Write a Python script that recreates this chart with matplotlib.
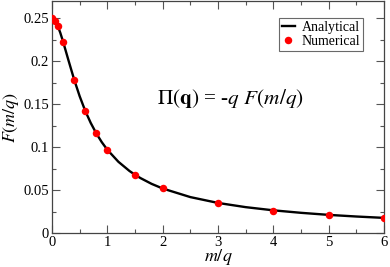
import matplotlib
matplotlib.use("Agg")
import matplotlib.pyplot as plt
from matplotlib.ticker import MultipleLocator, FuncFormatter

# Analytical curve
x_curve = [0.0, 0.05, 0.1, 0.15, 0.2, 0.3, 0.4, 0.5, 0.6, 0.7, 0.8, 0.9, 1.0,
           1.2, 1.4, 1.5, 1.6, 1.8, 2.0, 2.5, 3.0, 3.5, 4.0, 4.5, 5.0, 5.5, 6.0]
y_curve = [0.2500, 0.2477, 0.2417, 0.2330, 0.2228, 0.2005, 0.1787, 0.1592,
           0.1423, 0.1281, 0.1160, 0.1057, 0.0969, 0.0829, 0.0722, 0.0678,
           0.0639, 0.0572, 0.0518, 0.0418, 0.0350, 0.0301, 0.0264, 0.0235,
           0.0211, 0.0192, 0.0176]

# Numerical points
x_num = [0.0, 0.05, 0.1, 0.2, 0.4, 0.6, 0.8, 1.0, 1.5, 2.0, 3.0, 4.0, 5.0, 6.0]
y_num = [0.250, 0.247, 0.241, 0.222, 0.178, 0.142, 0.116, 0.097, 0.068,
         0.052, 0.035, 0.026, 0.021, 0.018]

plt.rcParams['font.family'] = ['Liberation Serif', 'DejaVu Serif']
plt.rcParams['mathtext.fontset'] = 'stix'

fig = plt.figure(figsize=(3.9, 2.67), dpi=100)
ax = fig.add_axes([0.1333, 0.1273, 0.8513, 0.8690])

ax.plot(x_curve, y_curve, color='black', lw=1.7, label='Analytical', zorder=2)
ax.plot(x_num, y_num, 'o', color='#ff0000', markersize=5.4, markeredgewidth=0,
        label='Numerical', zorder=3)

ax.set_xlim(0, 6)
ax.set_ylim(0, 0.27)
ax.xaxis.set_major_locator(MultipleLocator(1))
ax.xaxis.set_minor_locator(MultipleLocator(0.5))
ax.yaxis.set_major_locator(MultipleLocator(0.05))
ax.yaxis.set_minor_locator(MultipleLocator(0.025))
ax.yaxis.set_major_formatter(FuncFormatter(lambda v, p: f"{v:g}"))
ax.xaxis.set_major_formatter(FuncFormatter(lambda v, p: f"{v:g}"))
ax.tick_params(which='both', direction='in', top=True, right=True,
               labelsize=10.5, pad=2, width=0.8, color='#555555')
ax.tick_params(which='major', length=6)
ax.tick_params(which='minor', length=3)
for s in ax.spines.values():
    s.set_linewidth(0.9)
    s.set_color('#444444')

ax.set_xlabel(r'$m/q$', fontsize=13, labelpad=-1)
ax.set_ylabel(r'$F(m/q)$', fontsize=13, labelpad=2)

ax.text(0.316, 0.58, r'$\Pi(\mathbf{q})$ = -$q$ $F(m/q)$', transform=ax.transAxes,
        fontsize=15.3, va='center', ha='left')

leg = ax.legend(loc='upper right', bbox_to_anchor=(0.937, 0.925), fontsize=10,
                frameon=True, fancybox=False, handlelength=0.9, handletextpad=0.5,
                borderpad=0.2, labelspacing=0.05, borderaxespad=0)
leg.get_frame().set_edgecolor('#444444')
leg.get_frame().set_linewidth(0.8)

fig.savefig('out.png', dpi=100)
